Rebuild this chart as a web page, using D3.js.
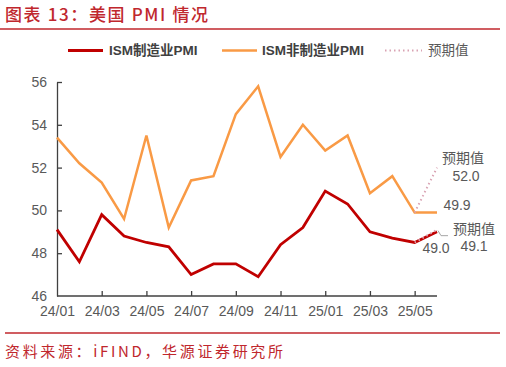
<!DOCTYPE html>
<html><head><meta charset="utf-8">
<script src="https://cdn.jsdelivr.net/npm/d3@7"></script>
<style>
html,body{margin:0;padding:0;background:#fff;}
svg{display:block;}
</style></head>
<body>
<svg id="chart" width="506" height="367"></svg>
<script>
const months = ["24/01","24/02","24/03","24/04","24/05","24/06","24/07","24/08","24/09","24/10","24/11","24/12","25/01","25/02","25/03","25/04","25/05","25/06"];
const tickLabels = ["24/01","24/03","24/05","24/07","24/09","24/11","25/01","25/03","25/05"];
const mfg = [49.1,47.6,49.8,48.8,48.5,48.3,47.0,47.5,47.5,46.9,48.4,49.2,50.9,50.3,49.0,48.7,48.5,49.0];
const svc = [53.4,52.2,51.3,49.6,53.5,49.2,51.4,51.6,54.5,55.8,52.5,54.0,52.8,53.5,50.8,51.6,49.9,49.9];
const mfgExpected = [{m:"25/05",v:48.5},{m:"25/06",v:49.1}];
const svcExpected = [{m:"25/05",v:49.9},{m:"25/06",v:52.0}];
const yTicks = [46,48,50,52,54,56];

const svg = d3.select("#chart");
const red = "#c00000", orange = "#f99a45", pink = "#d9a3b3", grey = "#595959";
const cjk = "'Noto Sans CJK SC', sans-serif";
const latin = "'Liberation Sans', Arial, 'Noto Sans CJK SC', sans-serif";

// Title
svg.append("text").attr("x", 5).attr("y", 21)
  .attr("font-family", cjk).attr("font-size", 17).attr("font-weight", 500).attr("fill", "#c0272d")
  .attr("textLength", 203).attr("lengthAdjust", "spacing")
  .text("图表 13：美国 PMI 情况");
svg.append("line").attr("x1", 0).attr("x2", 500).attr("y1", 29).attr("y2", 29)
  .attr("stroke", "#c0272d").attr("stroke-width", 1.5);

// Scales
const x = d3.scalePoint().domain(months).range([57, 437]);
const y = d3.scaleLinear().domain([46, 56]).range([296, 82]);

// Axes
const gx = svg.append("g").attr("transform", "translate(0,296)")
  .call(d3.axisBottom(x).tickValues(tickLabels).tickSizeInner(-5).tickSizeOuter(0).tickPadding(10));
const gy = svg.append("g").attr("transform", "translate(57,0)")
  .call(d3.axisLeft(y).tickValues(yTicks).tickSizeInner(-5).tickSizeOuter(0).tickPadding(10).tickFormat(d3.format("d")));
[gx, gy].forEach(g => {
  g.select(".domain").attr("stroke", "#404040").attr("stroke-width", 1.3);
  g.selectAll(".tick line").attr("stroke", "#404040").attr("stroke-width", 1.3);
  g.selectAll(".tick text").attr("fill", grey).attr("font-size", 14).attr("font-family", latin);
});
gx.select(".domain").attr("d", "M57,0H437");
gx.selectAll(".tick").filter(d => d === "24/01").select("line").remove();
gy.selectAll(".tick").filter(d => d === 46).select("line").remove();

// Lines
const line = d3.line().x((d, i) => x(months[i])).y(d => y(d));
svg.append("path").datum(svc).attr("d", line).attr("fill", "none")
  .attr("stroke", orange).attr("stroke-width", 2.5).attr("stroke-linejoin", "miter");
svg.append("path").datum(mfg).attr("d", line).attr("fill", "none")
  .attr("stroke", red).attr("stroke-width", 2.8).attr("stroke-linejoin", "miter");

const eLine = d3.line().x(d => x(d.m)).y(d => y(d.v));
[svcExpected, mfgExpected].forEach(dat => {
  svg.append("path").datum(dat).attr("d", eLine).attr("fill", "none")
    .attr("stroke", pink).attr("stroke-width", 2).attr("stroke-dasharray", "1.5,3");
});

// Leader line for manufacturing expected
const lx = x("25/06"), ly = y(49.1);
svg.append("path").attr("d", `M${lx+1},${ly+1}L${lx+4},${ly+6}H${lx+11}`)
  .attr("fill", "none").attr("stroke", "#a6a6a6").attr("stroke-width", 1);

// Annotations
const ann = [
  {t:"预期值", x:463, y:158, f:cjk},
  {t:d3.format(".1f")(svcExpected[1].v), x:466, y:176, f:latin},
  {t:d3.format(".1f")(svc[17]), x:457, y:205, f:latin},
  {t:"预期值", x:474, y:229, f:cjk},
  {t:d3.format(".1f")(mfgExpected[1].v), x:474, y:246, f:latin},
  {t:d3.format(".1f")(mfg[17]), x:436, y:248, f:latin}
];
svg.selectAll("text.ann").data(ann).enter().append("text").attr("class", "ann")
  .attr("x", d => d.x).attr("y", d => d.y).attr("dy", "0.35em")
  .attr("text-anchor", "middle").attr("font-family", d => d.f).attr("font-size", 14)
  .attr("fill", grey).text(d => d.t);

// Legend
const legend = [
  {t:"ISM制造业PMI", c:red, x1:68, x2:103, tx:109, dash:null, w:2.8, bold:true},
  {t:"ISM非制造业PMI", c:orange, x1:222, x2:257, tx:262, dash:null, w:2.5, bold:true},
  {t:"预期值", c:pink, x1:385, x2:422, tx:428, dash:"1.5,3", w:2, bold:false}
];
legend.forEach(l => {
  svg.append("line").attr("x1", l.x1).attr("x2", l.x2).attr("y1", 50.5).attr("y2", 50.5)
    .attr("stroke", l.c).attr("stroke-width", l.w).attr("stroke-dasharray", l.dash);
  svg.append("text").attr("x", l.tx).attr("y", 50.5).attr("dy", "0.35em")
    .attr("font-family", latin).attr("font-size", 13.5).attr("font-weight", l.bold ? "bold" : "normal")
    .attr("fill", l.bold ? "#404040" : grey).text(l.t);
});

// Footer
svg.append("line").attr("x1", 5).attr("x2", 500).attr("y1", 333).attr("y2", 333)
  .attr("stroke", "#c0272d").attr("stroke-width", 1.5);
svg.append("text").attr("x", 5).attr("y", 357)
  .attr("font-family", cjk).attr("font-size", 15).attr("fill", "#c0272d")
  .attr("textLength", 278).attr("lengthAdjust", "spacing")
  .text("资料来源：iFIND，华源证券研究所");
</script>
</body></html>
